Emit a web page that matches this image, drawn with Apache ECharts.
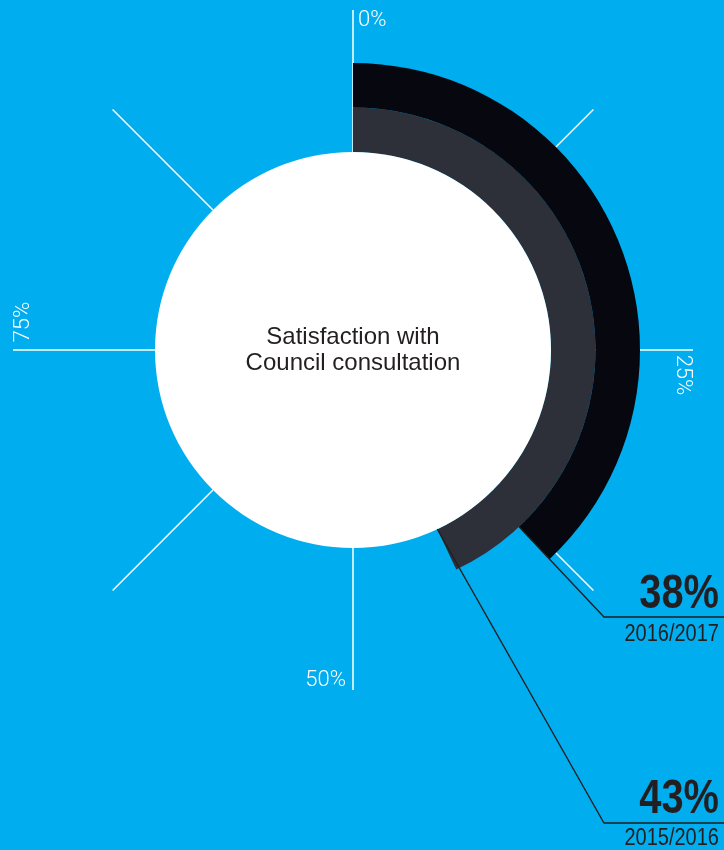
<!DOCTYPE html>
<html>
<head>
<meta charset="utf-8">
<script src="https://cdn.jsdelivr.net/npm/echarts@6/dist/echarts.min.js"></script>
<style>
  html, body { margin: 0; padding: 0; background: #00adef; }
  #chart { width: 724px; height: 850px; }
</style>
</head>
<body>
<div id="chart"></div>
<script>
// data
const years = ['2015/2016', '2016/2017'];
const satisfaction = [43, 38];
const tickLabels = ['0%', '25%', '50%', '75%'];
const title = 'Satisfaction with\nCouncil consultation';

const cx = 353, cy = 350;
const rInner = 198, rOuter = 287, rTicks = 340;
const band = (rOuter - rInner) / years.length;
const ringColors = ['#2e3039', '#07080f'];
const dark = '#231f20';

const chart = echarts.init(document.getElementById('chart'));

// point on circle for a percentage value
const at = (value, r) => {
  const a = value / 100 * Math.PI * 2;
  return [cx + r * Math.sin(a), cy - r * Math.cos(a)];
};

// callouts: leader from ring end -> corner -> right edge
const callouts = [
  {corner: [604, 823], big: 800, small: 839},  // 2015/2016
  {corner: [604, 617], big: 595, small: 635}   // 2016/2017
];
const graphics = [];
years.forEach((y, i) => {
  const c = callouts[i];
  const start = at(satisfaction[i], rInner + i * band);
  graphics.push({
    type: 'polyline',
    z: 10,
    shape: {points: [start, c.corner, [724, c.corner[1]]]},
    style: {stroke: dark, lineWidth: 1.3, fill: null}
  });
  // condensed look: squeeze a normal face horizontally
  graphics.push({
    type: 'text', z: 10, x: 719, y: c.big, scaleX: 0.83,
    style: {
      text: satisfaction[i] + '%', fill: dark, align: 'right', verticalAlign: 'middle',
      font: 'bold 48px "Liberation Sans", Arial, sans-serif'
    }
  });
  graphics.push({
    type: 'text', z: 10, x: 719, y: c.small, scaleX: 0.87,
    style: {
      text: y, fill: dark, align: 'right', verticalAlign: 'middle',
      font: '23px "Liberation Sans", Arial, sans-serif'
    }
  });
});

// tick labels round the dial
const tickFont = '300 22px Roboto, sans-serif';
const tickPos = [
  {x: 358, y: 20, rotation: 0, align: 'left'},
  {x: 682, y: 375, rotation: -Math.PI / 2, align: 'center'},
  {x: 346, y: 680, rotation: 0, align: 'right'},
  {x: 23, y: 322, rotation: Math.PI / 2, align: 'center'}
];
tickLabels.forEach((t, i) => {
  const p = tickPos[i];
  graphics.push({
    type: 'text', z: 10, x: p.x, y: p.y, rotation: p.rotation,
    style: {text: t, fill: '#ffffff', font: tickFont, align: p.align, verticalAlign: 'middle'}
  });
});

const option = {
  backgroundColor: '#00adef',
  animation: false,
  polar: [
    {center: [cx, cy], radius: [rInner, rOuter]},
    {center: [cx, cy], radius: [rInner, rTicks]}
  ],
  angleAxis: [
    {
      polarIndex: 0, type: 'value', min: 0, max: 100, startAngle: 90, clockwise: true,
      axisLine: {show: false}, axisTick: {show: false}, axisLabel: {show: false}, splitLine: {show: false}
    },
    {
      polarIndex: 1, type: 'value', min: 0, max: 100, interval: 12.5, startAngle: 90, clockwise: true,
      axisLine: {show: false}, axisTick: {show: false}, axisLabel: {show: false},
      splitLine: {show: true, lineStyle: {color: '#ffffff', width: 1.5}}
    }
  ],
  radiusAxis: [
    {
      polarIndex: 0, type: 'category', data: years,
      axisLine: {show: false}, axisTick: {show: false}, axisLabel: {show: false}, splitLine: {show: false}
    },
    {
      polarIndex: 1, type: 'value', min: 0, max: 1,
      axisLine: {show: false}, axisTick: {show: false}, axisLabel: {show: false}, splitLine: {show: false}
    }
  ],
  series: [
    {
      type: 'bar',
      coordinateSystem: 'polar',
      polarIndex: 0,
      barCategoryGap: '0%',
      z: 3,
      data: satisfaction.map((v, i) => ({value: v, itemStyle: {color: ringColors[i]}}))
    },
    {
      type: 'pie',
      center: [cx, cy],
      radius: [0, rInner],
      silent: true,
      z: 4,
      itemStyle: {color: '#ffffff'},
      label: {
        show: true, position: 'center', formatter: title,
        color: dark, fontSize: 24, lineHeight: 26,
        fontFamily: '"Liberation Sans", Arial, sans-serif'
      },
      labelLine: {show: false},
      data: [{value: 1}]
    }
  ],
  graphic: graphics
};
chart.setOption(option);
</script>
</body>
</html>
